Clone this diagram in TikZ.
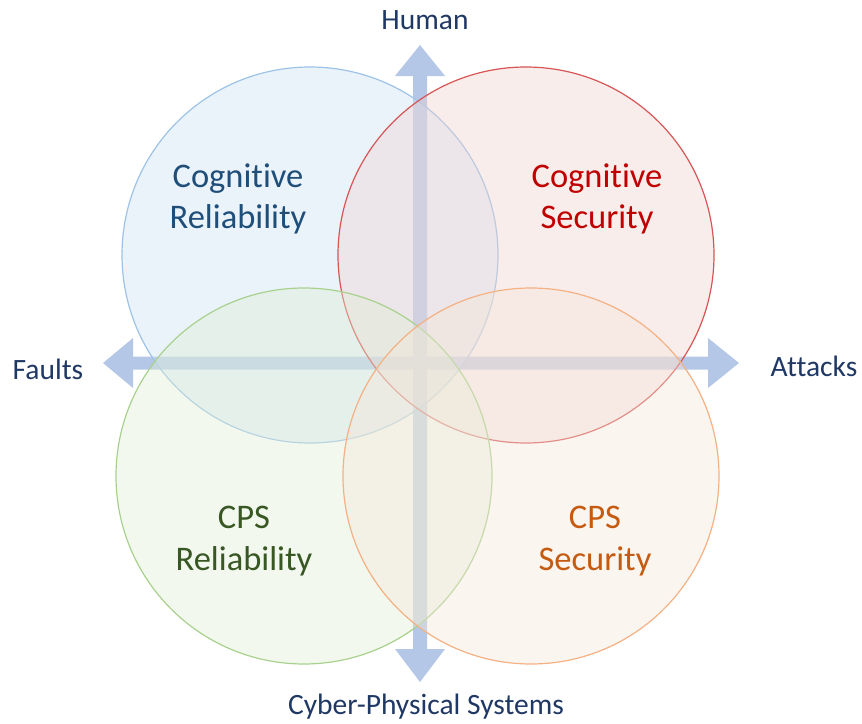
\documentclass[tikz,border=0pt]{standalone}
\usepackage{fontspec}
\setmainfont[Ligatures=NoCommon]{Carlito}
\definecolor{arrowc}{RGB}{180,199,231}
\definecolor{blueline}{RGB}{157,195,230}
\definecolor{bluefill}{RGB}{203,223,243}
\definecolor{redline}{RGB}{215,85,85}
\definecolor{redfill}{RGB}{240,210,208}
\definecolor{greenline}{RGB}{169,209,142}
\definecolor{greenfill}{RGB}{223,238,213}
\definecolor{orangeline}{RGB}{244,177,131}
\definecolor{orangefill}{RGB}{245,230,215}
\definecolor{axistext}{RGB}{32,56,100}
\definecolor{bluetext}{RGB}{31,78,121}
\definecolor{redtext}{RGB}{192,0,0}
\definecolor{greentext}{RGB}{56,87,35}
\definecolor{orangetext}{RGB}{197,90,17}
\tikzset{
  venn/.style={circle, minimum size=376pt, inner sep=0pt, line width=1.2pt, fill opacity=0.4},
  bigtext/.style={align=center, font=\fontsize{34.5}{41.5}\selectfont},
  axislabel/.style={text=axistext, font=\fontsize{29.5}{35}\selectfont},
  axisarrow/.style={fill=arrowc, draw=none}
}
\begin{document}
\begin{tikzpicture}[x=1pt,y=-1pt]
\useasboundingbox (0,0) rectangle (862,723);
% axes
\fill[axisarrow] (413,76) -- (395,76) -- (420,45) -- (445,76) -- (427,76) -- (427,649) -- (445,649) -- (420,682) -- (395,649) -- (413,649) -- cycle;
\fill[axisarrow] (133,356.5) -- (133,338) -- (103,363) -- (133,388) -- (133,369.5) -- (708,369.5) -- (708,388) -- (739,363) -- (708,338) -- (708,356.5) -- cycle;
% circles
\node[venn, draw=blueline, fill=bluefill] (cogrel) at (310,255) {};
\node[venn, draw=redline, fill=redfill] (cogsec) at (526,255) {};
\node[venn, draw=greenline, fill=greenfill] (cpsrel) at (304,476) {};
\node[venn, draw=orangeline, fill=orangefill] (cpssec) at (531,476) {};
% circle texts
\node[bigtext, text=bluetext] (tcogrel) at (238,199) {Cognitive\\Reliability};
\node[bigtext, text=redtext] (tcogsec) at (597,199) {Cognitive\\Security};
\node[bigtext, text=greentext] (tcpsrel) at (244,541) {CPS\\Reliability};
\node[bigtext, text=orangetext] (tcpssec) at (595,541) {CPS\\Security};
% axis labels
\node[axislabel] (human) at (425,20) {Human};
\node[axislabel] (faults) at (48,369) {Faults};
\node[axislabel] (attacks) at (814,366) {Attacks};
\node[axislabel] (cps) at (426,707) {Cyber-Physical Systems};
\end{tikzpicture}
\end{document}
